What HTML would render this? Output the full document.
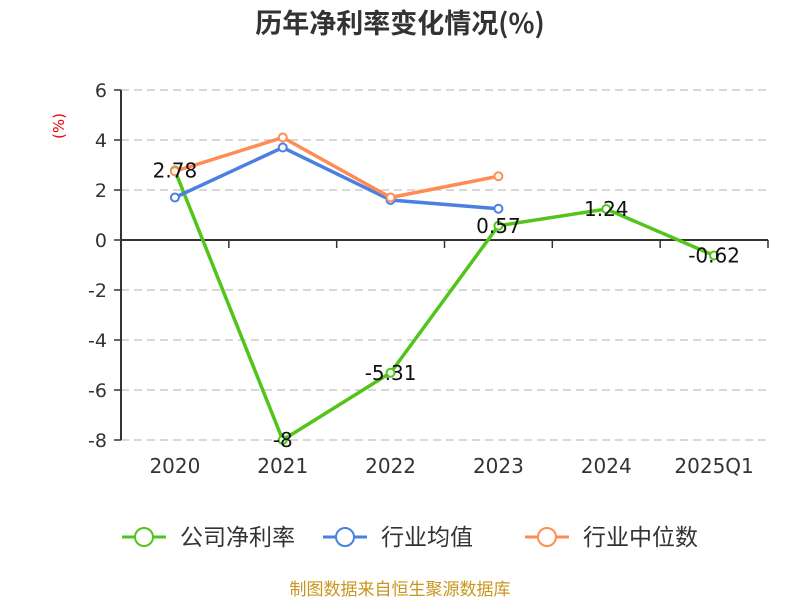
<!DOCTYPE html>
<html><head><meta charset="utf-8"><style>
body{margin:0;background:#fff;}
svg text{font-family:"DejaVu Sans","Noto Sans CJK SC",sans-serif;}
</style></head><body>
<svg id="c" width="800" height="600">
<text x="400" y="33" text-anchor="middle" font-size="27" font-weight="bold" fill="#333" style="font-family:'Noto Sans CJK SC','DejaVu Sans',sans-serif">历年净利率变化情况(%)</text>
<text x="64" y="126" text-anchor="middle" font-size="15" fill="#e00" transform="rotate(-90 64 126)">(%)</text>
<g id="grid"></g>
<g id="axes"></g>
<g id="series"></g>
<g id="legend"></g>
<text x="400" y="595" text-anchor="middle" font-size="17" fill="#c8961e" style="font-family:'Noto Sans CJK SC',sans-serif">制图数据来自恒生聚源数据库</text>
</svg>
<script>
const categories=["2020","2021","2022","2023","2024","2025Q1"];
const yTicks=[6,4,2,0,-2,-4,-6,-8];
const netMargin=[2.78,-8,-5.31,0.57,1.24,-0.62];
const industryAvg=[1.7,3.7,1.6,1.25];
const industryMedian=[2.75,4.1,1.7,2.55];
const netLabels=["2.78","-8","-5.31","0.57","1.24","-0.62"];
const NS="http://www.w3.org/2000/svg";
const L=121,R=768,T=90,B=440,ymin=-8,ymax=6;
const bw=(R-L)/categories.length;
const x=i=>L+bw*(i+0.5);
const y=v=>B-(v-ymin)/(ymax-ymin)*(B-T);
function mk(tag,attrs,parent,txt){const e=document.createElementNS(NS,tag);for(const k in attrs)e.setAttribute(k,attrs[k]);if(txt!==undefined)e.textContent=txt;parent.appendChild(e);return e;}
const grid=document.getElementById('grid'),axes=document.getElementById('axes'),series=document.getElementById('series'),legend=document.getElementById('legend');
yTicks.forEach(v=>{
 if(v!==0){const g=mk('line',{x1:L,x2:R,y1:y(v),y2:y(v),stroke:'#ccc','stroke-dasharray':'8,5','stroke-width':1.5},grid);
 }
 const t=mk('line',{x1:L-7,x2:L,y1:y(v),y2:y(v),stroke:'#333','stroke-width':1.5},axes);
 
 const lb=mk('text',{x:L-14,y:y(v)+7,'text-anchor':'end','font-size':19,fill:'#333'},axes,String(v));
 
});
let a=mk('line',{x1:L,x2:L,y1:T,y2:B,stroke:'#333','stroke-width':2},axes);

a=mk('line',{x1:L,x2:R,y1:y(0),y2:y(0),stroke:'#333','stroke-width':2},axes);

for(let i=0;i<=categories.length;i++){const t=mk('line',{x1:L+bw*i,x2:L+bw*i,y1:y(0),y2:y(0)+8,stroke:'#333','stroke-width':1.5},axes);
 }
categories.forEach((c,i)=>{const t=mk('text',{x:x(i),y:473,'text-anchor':'middle','font-size':20,fill:'#333'},axes,c);
 });
function drawSeries(vals,color,name){
 const pl=mk('polyline',{points:vals.map((v,i)=>x(i)+','+y(v)).join(' '),fill:'none',stroke:color,'stroke-width':3.5},series);
 
 vals.forEach((v,i)=>{const p=mk('circle',{cx:x(i),cy:y(v),r:4,fill:'#fff',stroke:color,'stroke-width':2},series);
  });
}
drawSeries(netMargin,'#52c41a','net-margin');
drawSeries(industryAvg,'#4a80e0','industry-avg');
drawSeries(industryMedian,'#ff8c55','industry-median');
netLabels.forEach((s,i)=>{const t=mk('text',{x:x(i),y:y(netMargin[i])+7,'text-anchor':'middle','font-size':20,fill:'#111'},series,s);
 });
const leg=[["公司净利率",'#52c41a',122],["行业均值",'#4a80e0',323],["行业中位数",'#ff8c55',525]];
leg.forEach(([n,c,lx])=>{
 const g=mk('g',{},legend);
 mk('line',{x1:lx,x2:lx+44,y1:537,y2:537,stroke:c,'stroke-width':3},g);
 mk('circle',{cx:lx+22,cy:537,r:9,fill:'#fff',stroke:c,'stroke-width':2},g);
 mk('text',{x:lx+58,y:545,'font-size':23,fill:'#333',style:"font-family:'Noto Sans CJK SC',sans-serif"},g,n);
});
</script>
</body></html>
